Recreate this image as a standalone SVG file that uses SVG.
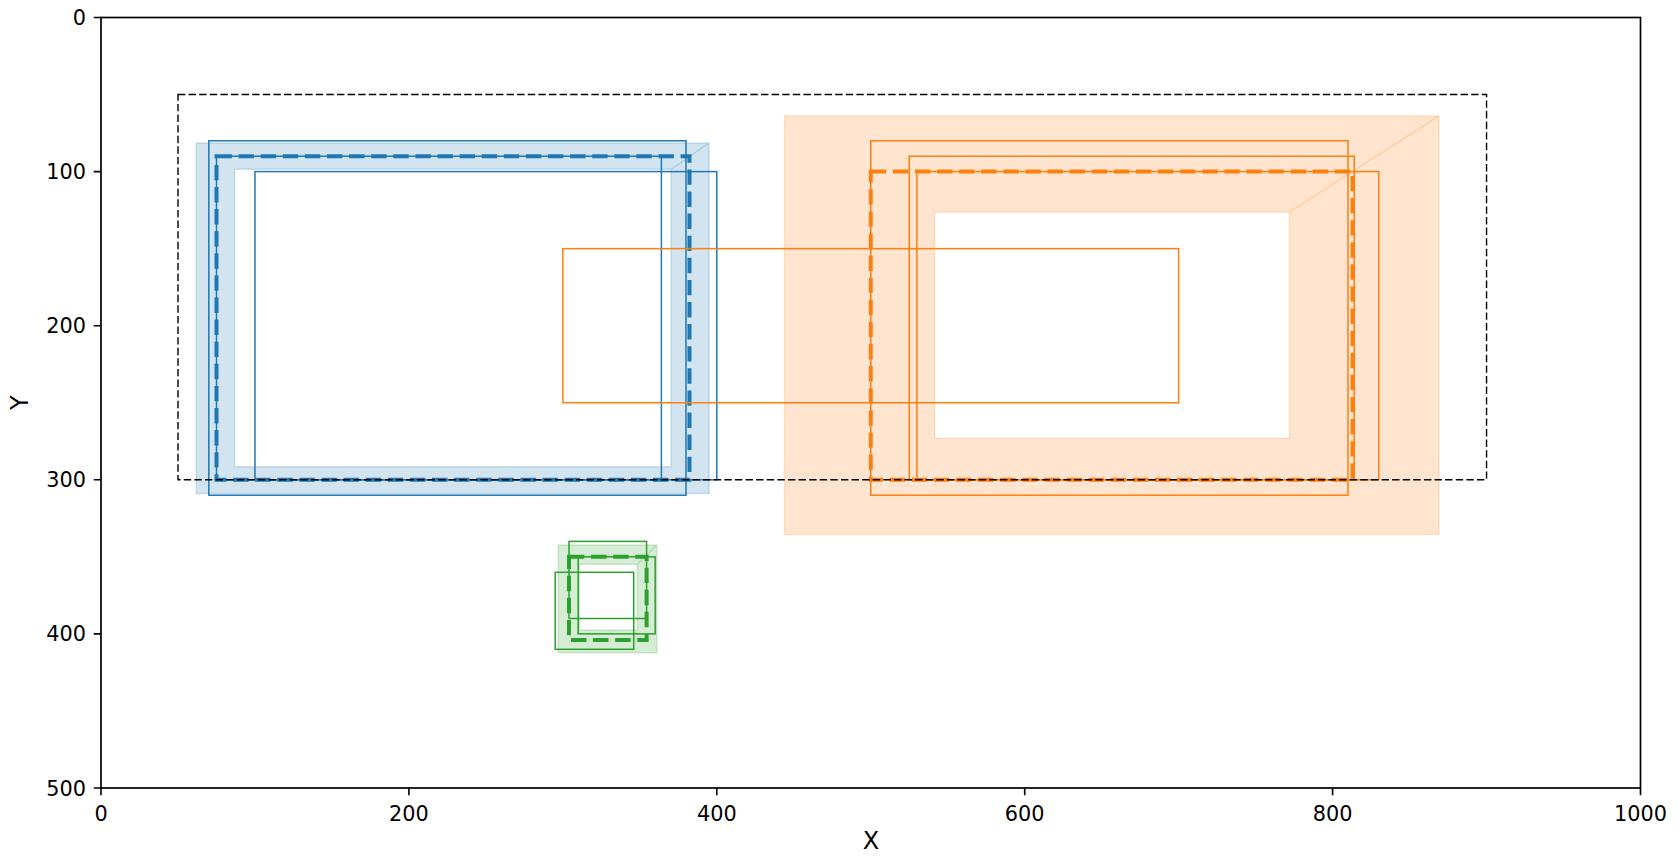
<svg xmlns="http://www.w3.org/2000/svg" width="1679" height="866" viewBox="0 0 1679 866">
<style>
.t{font-family:"DejaVu Sans","Liberation Sans",sans-serif;font-size:20.8px;fill:#000}
.lab{font-family:"DejaVu Sans","Liberation Sans",sans-serif;font-size:24px;fill:#000}
.thin{fill:none;stroke-width:1.5}
.dash{fill:none;stroke-width:4;stroke-dasharray:15.4 6.7}
.band{fill-rule:evenodd;fill-opacity:0.2;stroke-opacity:0.2;stroke-width:1.5}
.b{stroke:#1f77b4}.o{stroke:#ff7f0e}.g{stroke:#2ca02c}
.bf{fill:#1f77b4;stroke:#1f77b4}.of{fill:#ff7f0e;stroke:#ff7f0e}.gf{fill:#2ca02c;stroke:#2ca02c}
.tick{stroke:#000;stroke-width:1.6}
</style>
<rect width="1679" height="866" fill="#fff"/>
<g id="blue">
<path class="band bf" d="M709.1,142.9 L709.1,493.4 L196.3,493.4 L196.3,142.9 Z M671.1,169.3 L234.6,169.3 L234.6,466.7 L671.1,466.7 L671.1,169.3 L709.1,142.9"/>
<rect class="thin b" x="208.8" y="140.8" width="477.2" height="354.4"/>
<rect class="thin b" x="254.95" y="171.6" width="461.85" height="308.2"/>
<rect class="thin b" x="216.5" y="156.2" width="444.9" height="323.6"/>
<rect class="dash b" x="216.5" y="156.2" width="473" height="323.6"/>
</g>
<g id="orange">
<path class="band of" d="M1438.8,116 L1438.8,534.4 L784.5,534.4 L784.5,116 Z M1289.5,212 L934.6,212 L934.6,438.2 L1289.5,438.2 L1289.5,212 L1438.8,116"/>
<rect class="thin o" x="870.75" y="140.8" width="477.25" height="354.4"/>
<rect class="thin o" x="909.2" y="156.2" width="445" height="323.6"/>
<rect class="thin o" x="916.9" y="171.6" width="461.9" height="308.2"/>
<rect class="thin o" x="562.85" y="248.65" width="615.8" height="154.1"/>
<rect class="dash o" x="870.75" y="171.6" width="481.85" height="308.2"/>
</g>
<g id="green">
<path class="band gf" d="M656.8,545 L656.8,652.7 L558.2,652.7 L558.2,545 Z M637.3,564.3 L579.3,564.3 L579.3,630 L637.3,630 L637.3,564.3 L656.8,545"/>
<rect class="thin g" x="569" y="541.4" width="77.6" height="77.1"/>
<rect class="thin g" x="578.2" y="556.85" width="77" height="77"/>
<rect class="thin g" x="555.2" y="572.3" width="78.5" height="77"/>
<rect class="dash g" x="569" y="556.85" width="77.6" height="83.2"/>
</g>
<g id="region">
<rect x="178" y="94.55" width="1308.55" height="385.25" fill="none" stroke="#000" stroke-width="1.4" stroke-dasharray="7.4 3.2"/>
</g>
<g id="axes">
<rect x="101" y="17.5" width="1539.5" height="770.5" fill="none" stroke="#000" stroke-width="1.7"/>
<path class="tick" d="M101,788v7.3M408.9,788v7.3M716.8,788v7.3M1024.7,788v7.3M1332.6,788v7.3M1640.5,788v7.3M93.7,17.5h7.3M93.7,171.6h7.3M93.7,325.7h7.3M93.7,479.8h7.3M93.7,633.9h7.3M93.7,788h7.3"/>
<g class="t" text-anchor="middle">
<text x="101" y="821">0</text><text x="408.9" y="821">200</text><text x="716.8" y="821">400</text><text x="1024.7" y="821">600</text><text x="1332.6" y="821">800</text><text x="1640.5" y="821">1000</text>
</g>
<g class="t" text-anchor="end">
<text x="86" y="25">0</text><text x="86" y="179.1">100</text><text x="86" y="333.2">200</text><text x="86" y="487.3">300</text><text x="86" y="641.4">400</text><text x="86" y="795.5">500</text>
</g>
<text class="lab" x="871" y="849" text-anchor="middle">X</text>
<text class="lab" transform="translate(28,402.75) rotate(-90)" text-anchor="middle">Y</text>
</g>
</svg>
